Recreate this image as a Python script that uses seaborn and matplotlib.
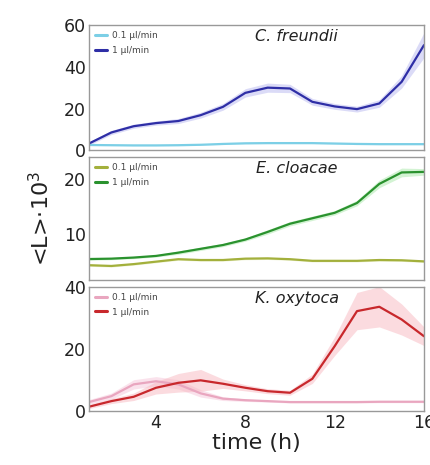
import numpy as np
import pandas as pd
import matplotlib
matplotlib.use("Agg")
import matplotlib.pyplot as plt
import seaborn as sns

time_h = [1, 2, 3, 4, 5, 6, 7, 8, 9, 10, 11, 12, 13, 14, 15, 16]
flow_labels = ["0.1 µl/min", "1 µl/min"]
species = ["C. freundii", "E. cloacae", "K. oxytoca"]

# C. freundii
cf_low = [2.5, 2.4, 2.3, 2.3, 2.4, 2.6, 3.0, 3.3, 3.4, 3.4, 3.4, 3.2, 3.0, 2.9, 2.9, 2.9]
cf_high = [3.2, 8.5, 11.5, 13.0, 14.0, 16.8, 20.8, 27.5, 30.0, 29.6, 23.2, 21.0, 19.7, 22.4, 32.8, 50.4]
cf_low_sd = [0.3, 0.3, 0.3, 0.3, 0.3, 0.3, 0.3, 0.3, 0.3, 0.3, 0.3, 0.3, 0.3, 0.3, 0.3, 0.3]
cf_high_sd = [0.8, 1.0, 1.0, 1.0, 1.2, 1.4, 1.6, 2.0, 2.2, 2.0, 1.6, 1.4, 1.4, 1.8, 3.0, 6.0]

# E. cloacae
ec_low = [4.2, 4.06, 4.4, 4.85, 5.3, 5.15, 5.15, 5.4, 5.45, 5.3, 5.0, 5.0, 5.0, 5.15, 5.1, 4.9]
ec_high = [5.33, 5.4, 5.6, 5.9, 6.5, 7.2, 7.9, 8.9, 10.3, 11.8, 12.8, 13.8, 15.6, 19.1, 21.2, 21.3]
ec_low_sd = [0.2, 0.2, 0.2, 0.2, 0.2, 0.2, 0.2, 0.2, 0.2, 0.2, 0.2, 0.2, 0.2, 0.2, 0.2, 0.2]
ec_high_sd = [0.2, 0.2, 0.2, 0.2, 0.3, 0.3, 0.3, 0.3, 0.4, 0.4, 0.4, 0.4, 0.5, 0.7, 0.8, 0.6]

# K. oxytoca
ko_low = [2.9, 4.8, 8.6, 9.6, 8.6, 5.7, 4.0, 3.5, 3.2, 2.9, 2.9, 2.9, 2.9, 3.0, 3.0, 3.0]
ko_high = [1.4, 3.2, 4.6, 7.5, 9.1, 9.9, 8.8, 7.5, 6.4, 5.9, 10.4, 20.9, 32.2, 33.6, 29.5, 24.1]
ko_low_sd = [0.8, 1.0, 1.5, 1.5, 1.5, 1.2, 0.6, 0.4, 0.3, 0.3, 0.3, 0.3, 0.3, 0.3, 0.3, 0.3]
ko_high_sd = [0.6, 0.8, 1.2, 2.0, 3.0, 3.5, 1.5, 1.0, 0.8, 0.8, 1.5, 3.0, 6.0, 6.5, 5.0, 3.0]

panels = [
    (cf_low, cf_high, cf_low_sd, cf_high_sd),
    (ec_low, ec_high, ec_low_sd, ec_high_sd),
    (ko_low, ko_high, ko_low_sd, ko_high_sd),
]
low_colors = ["#7ccfe6", "#a3b03c", "#e9a6bf"]
high_colors = ["#2e2ea6", "#2a922e", "#c8282c"]
band_colors = ["#b8b8f0", "#a8e8a8", "#f8b8c0"]
low_band_colors = ["#d0eef8", "#e4ecb8", "#f8d0e0"]
ylims = [(0, 60), (1.5, 24), (0, 40)]
yticks = [[0, 20, 40, 60], [10, 20], [0, 20, 40]]

sns.set_theme(style="white")
plt.rcParams['font.family'] = ['DejaVu Sans']

fig = plt.figure(figsize=(4.3, 4.65), dpi=100)
boxes = [(0.207, 0.677, 0.779, 0.269), (0.207, 0.398, 0.779, 0.264), (0.207, 0.116, 0.779, 0.267)]

for i, (box, (lo, hi, lo_sd, hi_sd)) in enumerate(zip(boxes, panels)):
    ax = fig.add_axes(box)
    df = pd.DataFrame({
        "time": time_h * 2,
        "L": lo + hi,
        "flow": [flow_labels[0]] * len(time_h) + [flow_labels[1]] * len(time_h),
    })
    lo_a = np.array(lo); hi_a = np.array(hi)
    ax.fill_between(time_h, lo_a - np.array(lo_sd), lo_a + np.array(lo_sd),
                    color=low_band_colors[i], alpha=0.6, lw=0)
    ax.fill_between(time_h, hi_a - np.array(hi_sd), hi_a + np.array(hi_sd),
                    color=band_colors[i], alpha=0.5, lw=0)
    sns.lineplot(data=df, x="time", y="L", hue="flow",
                 palette=[low_colors[i], high_colors[i]], ax=ax, lw=1.6)
    leg = ax.legend(loc="upper left", frameon=False, fontsize=6.5,
                    handlelength=1.3, handletextpad=0.5, borderaxespad=0.3,
                    labelspacing=0.6)
    for t in leg.get_texts():
        t.set_color("#444444")
    for ln in leg.get_lines():
        ln.set_linewidth(2.2)
    ax.text(0.62, 0.91, species[i], transform=ax.transAxes, ha="center", va="center",
            fontsize=11.5, style="italic", color="#222222")
    ax.set_xlim(1, 16)
    ax.set_ylim(*ylims[i])
    ax.set_yticks(yticks[i])
    ax.set_xlabel("")
    ax.set_ylabel("")
    ax.tick_params(axis="both", length=0, labelsize=12.5, colors="#222222", pad=2)
    for s in ax.spines.values():
        s.set_color("#999999")
        s.set_linewidth(1.0)
    if i < 2:
        ax.set_xticks([4, 8, 12, 16])
        ax.set_xticklabels([])
    else:
        ax.set_xticks([4, 8, 12, 16])
        ax.set_xlabel("time (h)", fontsize=16, color="#222222", labelpad=1)

fig.text(0.095, 0.53, "<L>·10$^3$", rotation=90, ha="center", va="center",
         fontsize=16, color="#222222")

fig.savefig("out.png", dpi=100, facecolor="white")
